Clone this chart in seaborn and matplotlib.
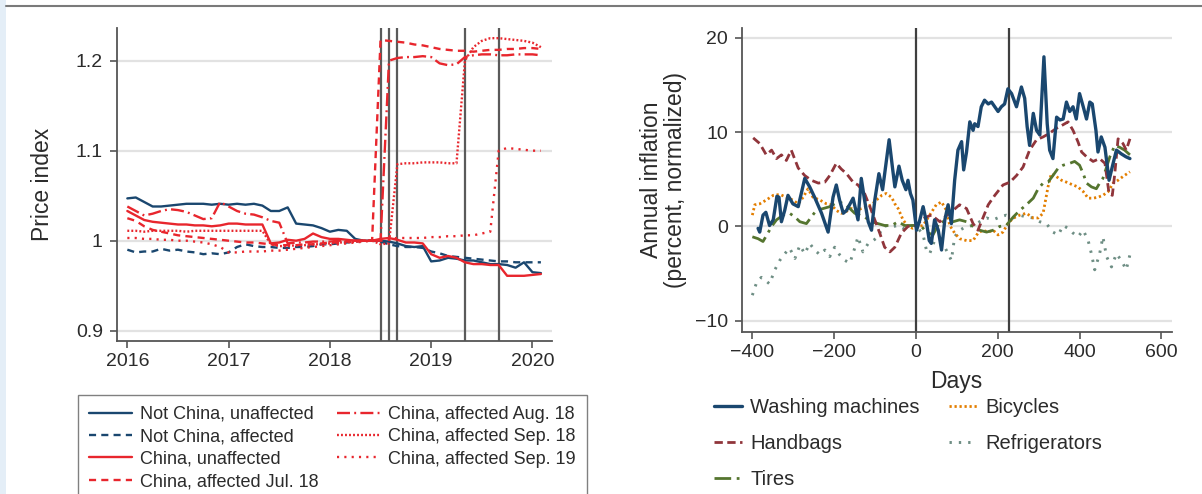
import numpy as np
import pandas as pd
import matplotlib
matplotlib.use("Agg")
import matplotlib.pyplot as plt
from matplotlib.patches import Rectangle
from matplotlib.lines import Line2D
import seaborn as sns

# ---------------- Left panel data (monthly, Jan 2016 - Feb 2020) ----------------
first_month = "2016-01-01"
n_months = 50
not_china_unaffected = [1.047, 1.048, 1.043, 1.038, 1.038, 1.039, 1.040, 1.041, 1.041, 1.041, 1.040, 1.041,
                        1.040, 1.041, 1.040, 1.041, 1.039, 1.033, 1.033, 1.037, 1.019, 1.018, 1.017, 1.014,
                        1.010, 1.012, 1.011, 1.002, 1.000, 1.000, 1.000, 0.999, 0.997, 0.994, 0.993, 0.994,
                        0.977, 0.978, 0.981, 0.980, 0.978, 0.978, 0.976, 0.974, 0.974, 0.973, 0.970, 0.976,
                        0.965, 0.964]
not_china_affected = [0.990, 0.987, 0.988, 0.988, 0.991, 0.989, 0.990, 0.988, 0.987, 0.985, 0.986, 0.985,
                      0.987, 0.993, 0.996, 0.994, 0.993, 0.993, 0.992, 0.992, 0.993, 0.993, 0.994, 0.996,
                      0.996, 0.997, 0.998, 0.999, 1.000, 1.000, 0.999, 0.996, 0.994, 0.993, 0.993, 0.992,
                      0.988, 0.986, 0.983, 0.982, 0.981, 0.980, 0.979, 0.978, 0.977, 0.977, 0.976, 0.976,
                      0.976, 0.976]
china_unaffected = [1.033, 1.028, 1.023, 1.021, 1.020, 1.019, 1.018, 1.018, 1.017, 1.017, 1.016, 1.017,
                    1.019, 1.019, 1.018, 1.018, 1.018, 0.997, 0.998, 1.001, 1.000, 1.002, 1.008, 1.004,
                    1.002, 1.002, 1.001, 1.000, 1.000, 1.000, 1.002, 1.003, 1.001, 0.998, 0.998, 0.997,
                    0.985, 0.981, 0.983, 0.981, 0.976, 0.974, 0.974, 0.973, 0.973, 0.961, 0.961, 0.961,
                    0.962, 0.963]
china_jul18 = [1.025, 1.022, 1.016, 1.012, 1.010, 1.008, 1.006, 1.005, 1.004, 1.003, 1.002, 1.001,
               1.000, 0.999, 0.998, 0.998, 0.997, 0.996, 0.995, 0.995, 0.995, 0.996, 0.996, 0.997,
               0.998, 0.998, 0.999, 0.999, 1.000, 1.000, 1.223, 1.222, 1.221, 1.220, 1.218, 1.217,
               1.215, 1.213, 1.212, 1.211, 1.211, 1.210, 1.211, 1.212, 1.212, 1.213, 1.213, 1.214,
               1.214, 1.213]
china_aug18 = [1.038, 1.033, 1.028, 1.030, 1.033, 1.035, 1.034, 1.032, 1.028, 1.024, 1.025, 1.043,
               1.038, 1.033, 1.030, 1.029, 1.026, 1.022, 1.020, 0.997, 0.998, 0.998, 0.999, 0.999,
               0.999, 1.000, 1.000, 1.000, 1.000, 1.000, 1.000, 1.200, 1.203, 1.204, 1.204, 1.205,
               1.204, 1.197, 1.195, 1.196, 1.204, 1.206, 1.207, 1.207, 1.206, 1.206, 1.207, 1.207,
               1.207, 1.206]
china_sep18 = [1.011, 1.011, 1.010, 1.011, 1.011, 1.011, 1.011, 1.010, 1.011, 1.011, 1.011, 1.011,
               1.011, 1.011, 1.011, 1.011, 1.011, 0.996, 0.994, 0.994, 0.995, 0.995, 0.996, 0.996,
               0.997, 0.998, 0.998, 0.999, 1.000, 1.000, 0.996, 0.997, 1.085, 1.086, 1.086, 1.087,
               1.087, 1.087, 1.086, 1.086, 1.200, 1.215, 1.222, 1.225, 1.225, 1.224, 1.223, 1.222,
               1.220, 1.215]
china_sep19 = [1.003, 1.003, 1.002, 1.002, 1.001, 1.001, 1.000, 1.000, 0.999, 0.998, 0.996, 0.993,
               0.987, 0.987, 0.988, 0.988, 0.988, 0.989, 0.989, 0.990, 0.991, 0.992, 0.993, 0.994,
               0.995, 0.996, 0.997, 0.998, 0.999, 1.000, 1.000, 1.002, 1.003, 1.003, 1.003, 1.003,
               1.004, 1.004, 1.005, 1.005, 1.006, 1.006, 1.008, 1.010, 1.100, 1.103, 1.102, 1.101,
               1.100, 1.100]
left_labels = ["Not China, unaffected", "Not China, affected", "China, unaffected",
               "China, affected Jul. 18", "China, affected Aug. 18", "China, affected Sep. 18",
               "China, affected Sep. 19"]
tariff_dates = ["2018-07-01", "2018-08-01", "2018-09-01", "2019-05-01", "2019-09-01"]
left_yticks = [0.9, 1.0, 1.1, 1.2]
left_yticklabels = ["0.9", "1", "1.1", "1.2"]
left_xticks = [2016, 2017, 2018, 2019, 2020]

# ---------------- Right panel data (days relative to tariff) ----------------
wash_days = [-385, -381, -373, -366, -357, -348, -339, -334, -328, -320,
             -312, -300, -287, -271, -259, -247, -230, -214, -202, -194,
             -186, -177, -169, -153, -141, -133, -125, -116, -108, -100,
             -90, -81, -65, -57, -51, -41, -33, -24, -19, -13,
             -7, 2, 10, 18, 26, 33, 38, 46, 55, 63,
             71, 79, 87, 95, 103, 112, 117, 124, 132, 140,
             144, 152, 160, 168, 177, 185, 193, 201, 209, 217,
             225, 234, 246, 258, 266, 272, 278, 287, 295, 303,
             313, 321, 327, 335, 344, 352, 360, 368, 376, 384,
             392, 400, 409, 417, 425, 431, 440, 445, 453, 462,
             472, 482, 490, 502, 513, 523]
wash_vals = [-0.2, -0.6, 1.2, 1.5, 0.1, 0.7, 3.2, 3.1, 0.5, 1.7,
             3.3, 2.4, 2.1, 5.1, 4.2, 3.1, 1.4, -0.6, 3.1, 4.4,
             2.8, 1.4, 1.7, 3.0, 0.7, 5.1, 2.8, 0.5, -0.4, 2.8,
             5.6, 3.9, 9.2, 6.3, 4.2, 6.4, 4.9, 3.9, 4.9, 3.5,
             2.8, -0.4, 0.7, 2.1, 0.5, -1.5, -1.8, 0.7, -0.4, -2.5,
             0.7, 2.3, 0.3, 4.9, 8.1, 9.0, 6.0, 7.9, 11.1, 10.2,
             10.9, 10.6, 12.7, 13.4, 13.0, 13.2, 12.7, 12.2, 12.7, 13.0,
             14.6, 14.1, 12.7, 14.8, 13.6, 10.6, 8.6, 12.0, 10.2, 9.7,
             18.0, 10.9, 8.1, 7.2, 11.6, 11.3, 11.4, 13.2, 12.2, 12.7,
             11.4, 14.1, 12.7, 11.4, 13.2, 13.0, 10.2, 7.9, 9.5, 8.4,
             4.9, 6.7, 8.1, 7.7, 7.4, 7.2]
handbag_days = [-397, -381, -365, -352, -340, -328, -316, -304, -287, -271,
                -255, -238, -222, -210, -194, -182, -169, -153, -141, -125,
                -112, -100, -88, -76, -63, -51, -35, -19, 2, 14,
                26, 38, 59, 71, 91, 107, 124, 140, 152, 164,
                177, 193, 213, 230, 246, 262, 278, 295, 311, 327,
                343, 356, 372, 384, 396, 405, 417, 433, 449, 462,
                472, 480, 486, 494, 506, 514, 523]
handbag_vals = [9.4, 8.8, 7.6, 8.1, 7.2, 7.6, 7.0, 8.1, 6.2, 5.4,
                4.9, 4.6, 4.7, 5.4, 6.7, 6.1, 5.6, 4.7, 4.4, 3.5,
                2.1, 0.7, -0.7, -2.2, -2.7, -2.2, -0.7, 0.0, 0.1, 0.7,
                1.0, 1.2, 0.5, 1.0, 1.7, 2.3, 1.9, 0.3, -0.4, 0.9,
                2.3, 3.3, 4.4, 4.7, 5.4, 6.3, 8.1, 9.2, 9.5, 9.9,
                10.4, 10.7, 11.1, 10.2, 9.0, 7.9, 7.4, 6.9, 7.2, 6.7,
                3.5, 3.3, 5.6, 9.3, 8.8, 8.1, 9.3]
tires_days = [-399, -385, -373, -361, -352, -340, -324, -308, -295, -283,
              -267, -255, -243, -226, -210, -190, -173, -161, -149, -137,
              -125, -108, -92, -76, -59, -43, -27, -11, 2, 14,
              26, 42, 59, 75, 91, 107, 124, 140, 156, 173,
              189, 205, 221, 238, 254, 270, 287, 299, 311, 323,
              335, 348, 360, 376, 388, 400, 409, 417, 429, 441,
              449, 457, 466, 474, 486, 498, 510, 523]
tires_vals = [-1.1, -1.3, -1.6, -0.7, 0.0, 0.7, 1.2, 1.4, 1.0, 0.5,
              0.3, 1.0, 1.7, 1.9, 2.1, 2.6, 2.4, 1.9, 1.4, 1.2,
              1.0, 0.5, 0.3, 0.1, 0.1, 0.5, 0.1, 0.1, 0.1, 0.0,
              -0.6, -0.9, 0.5, 0.5, 0.5, 0.7, 0.5, 0.0, -0.4, -0.6,
              -0.4, 0.0, 0.1, 1.0, 1.7, 2.3, 3.0, 4.0, 4.6, 4.7,
              5.4, 6.2, 6.5, 6.7, 6.9, 6.5, 5.6, 4.6, 4.2, 4.0,
              4.6, 5.1, 6.3, 7.4, 8.6, 8.4, 8.1, 7.6]
bicycle_days = [-399, -393, -381, -365, -348, -332, -316, -300, -287, -275,
                -263, -251, -234, -218, -206, -194, -182, -169, -157, -145,
                -133, -120, -108, -96, -83, -72, -59, -51, -43, -31,
                -19, -7, 6, 18, 34, 50, 63, 75, 83, 95,
                107, 124, 140, 152, 164, 177, 189, 201, 213, 225,
                238, 254, 270, 287, 299, 311, 323, 331, 343, 356,
                368, 384, 396, 409, 421, 433, 445, 457, 470, 482,
                494, 506, 523]
bicycle_vals = [1.2, 2.3, 2.4, 2.8, 3.3, 3.4, 3.1, 2.8, 2.4, 3.1,
                4.0, 3.1, 2.8, 2.4, 2.3, 1.7, 1.4, 1.6, 1.9, 1.7,
                1.9, 2.1, 2.3, 2.8, 3.3, 3.5, 3.1, 2.4, 1.9, 0.7,
                0.0, -0.2, 0.0, 0.1, 1.2, 2.3, 2.6, 1.7, 0.1, -0.7,
                -1.3, -1.5, -1.5, -0.7, -0.4, -0.6, -0.4, -0.9, -0.6, 0.3,
                0.9, 1.2, 1.4, 0.9, 0.9, 1.4, 4.2, 5.6, 5.3, 4.9,
                4.7, 4.4, 4.2, 3.7, 3.0, 3.0, 3.1, 3.3, 3.7, 4.6,
                4.9, 5.3, 5.8]
fridge_days = [-399, -389, -377, -365, -357, -344, -332, -320, -308, -295,
               -283, -271, -259, -247, -234, -222, -210, -198, -186, -173,
               -161, -149, -141, -129, -116, -104, -92, -80, -68, -55,
               -43, -31, -19, -7, 6, 18, 26, 34, 46, 59,
               71, 79, 87, 95, 107, 124, 140, 156, 173, 189,
               205, 221, 238, 254, 270, 287, 303, 319, 335, 348,
               360, 372, 384, 396, 409, 421, 429, 437, 449, 457,
               466, 478, 490, 502, 514, 523]
fridge_vals = [-7.3, -6.0, -5.4, -5.8, -6.1, -4.6, -3.6, -2.9, -2.3, -3.4,
               -2.0, -2.9, -1.8, -2.5, -3.0, -2.5, -3.2, -2.2, -3.0, -3.6,
               -3.9, -2.3, -1.1, -2.7, -1.8, -1.5, -1.1, 0.0, 0.1, 0.0,
               0.1, -0.2, 0.0, 0.1, -0.2, -0.9, -2.5, -2.9, -1.5, -1.6,
               -2.2, -2.9, -3.6, -1.1, -0.4, 0.0, 0.1, 0.5, 0.9, 0.7,
               1.0, 1.2, 0.9, 1.2, 1.0, 0.9, 0.5, 0.3, -0.6, -0.9,
               0.1, -0.2, -0.7, -1.1, -0.4, -1.5, -2.9, -4.6, -2.9, -1.1,
               -3.2, -4.3, -2.9, -3.6, -4.6, -3.0]
event_days = [0, 228]
right_yticks = [-10, 0, 10, 20]
right_xticks = [-400, -200, 0, 200, 400, 600]

# ---------------- styling ----------------
sns.set_style("ticks")
plt.rcParams["font.family"] = ["Liberation Sans", "DejaVu Sans"]
plt.rcParams["axes.unicode_minus"] = True

NAVY = "#1a476f"
RED = "#e8262d"
MAROON = "#90353b"
GREEN = "#55752f"
ORANGE = "#e37e00"
TEAL = "#6e8e84"
AXC = "#555555"
TXT = "#2b2b2b"

W, H = 1202, 494
fig = plt.figure(figsize=(W / 100, H / 100), dpi=100)
fig.patch.set_facecolor("white")


def px_rect(l, t, r, b):
    return [l / W, 1 - b / H, (r - l) / W, (b - t) / H]


# decorations: left tinted strip and top rule
fig.add_artist(Rectangle((0, 0), 6 / W, 1, transform=fig.transFigure,
                         facecolor="#e4eef7", edgecolor="none", zorder=0))
fig.add_artist(Line2D([6 / W, 1], [1 - 6.5 / H, 1 - 6.5 / H], transform=fig.transFigure,
                      color="#7a7a7a", lw=1.5))

ax1 = fig.add_axes(px_rect(116.7, 28, 551.7, 340.7))
ax2 = fig.add_axes(px_rect(741.7, 28, 1171.7, 331.7))

# ---- left panel ----
dates = pd.date_range(first_month, periods=n_months, freq="MS")
xdec = dates.year + (dates.month - 1) / 12.0
left_values = [not_china_unaffected, not_china_affected, china_unaffected,
               china_jul18, china_aug18, china_sep18, china_sep19]
left_colors = [NAVY, NAVY, RED, RED, RED, RED, RED]
left_styles = ["-", (0, (3, 2.2)), "-", (0, (3, 2.2)), (0, (5.5, 1.8, 0.8, 1.8)),
               (0, (0.8, 0.9)), (0, (0.9, 2.2))]

left_df = pd.concat([pd.DataFrame({"x": xdec, "y": v, "series": lab})
                     for v, lab in zip(left_values, left_labels)], ignore_index=True)

ax1.yaxis.grid(True, color="#e2e2e2", lw=1.6)
ax1.set_axisbelow(True)
for d in tariff_dates:
    t = pd.Timestamp(d)
    ax1.axvline(t.year + (t.month - 1) / 12.0, color="#5a5a5a", lw=1.6, zorder=1.5)

left_handles = []
for lab, col, ls in zip(left_labels, left_colors, left_styles):
    sub = left_df[left_df["series"] == lab]
    sns.lineplot(data=sub, x="x", y="y", ax=ax1, color=col, linewidth=1.7,
                 linestyle=ls, errorbar=None, legend=False, zorder=2)
    left_handles.append(ax1.get_lines()[-1])

ax1.set_xlim(2015.895, 2020.19)
ax1.set_ylim(0.8889, 1.2363)
ax1.set_xticks(left_xticks)
ax1.set_xticklabels([str(v) for v in left_xticks])
ax1.set_yticks(left_yticks)
ax1.set_yticklabels(left_yticklabels)
ax1.set_xlabel("")
ax1.set_ylabel("Price index", fontsize=16.5, color=TXT)
ax1.yaxis.set_label_coords((54 - 116.7) / 435, 0.5)

# ---- right panel ----
right_specs = [
    ("Refrigerators", fridge_days, fridge_vals, TEAL, (0, (0.8, 2.4)), 2.1),
    ("Bicycles", bicycle_days, bicycle_vals, ORANGE, (0, (0.8, 1.0)), 2.0),
    ("Tires", tires_days, tires_vals, GREEN, (0, (6, 2, 1, 2)), 2.0),
    ("Handbags", handbag_days, handbag_vals, MAROON, (0, (3, 1.6)), 2.0),
    ("Washing machines", wash_days, wash_vals, NAVY, "-", 2.4),
]
right_df = pd.concat([pd.DataFrame({"days": d, "infl": v, "product": name})
                      for name, d, v, _, _, _ in right_specs], ignore_index=True)

ax2.yaxis.grid(True, color="#e2e2e2", lw=1.6)
ax2.set_axisbelow(True)
for d in event_days:
    ax2.axvline(d, color="#3f3f3f", lw=1.6, zorder=1.5)

right_handles = {}
for name, _, _, col, ls, lw in right_specs:
    sub = right_df[right_df["product"] == name]
    sns.lineplot(data=sub, x="days", y="infl", ax=ax2, color=col, linewidth=lw,
                 linestyle=ls, errorbar=None, legend=False, zorder=2)
    right_handles[name] = ax2.get_lines()[-1]

ax2.set_xlim(-425, 625)
ax2.set_ylim(-11.17, 21.06)
ax2.set_xticks(right_xticks)
ax2.set_yticks(right_yticks)
ax2.set_xlabel("Days", fontsize=16.5, color=TXT)
ax2.xaxis.set_label_coords(0.5, (331.7 - 370) / 303.7)
ax2.set_ylabel("Annual inflation\n(percent, normalized)", fontsize=16.5, color=TXT,
               linespacing=1.05)
ax2.yaxis.set_label_coords((687 - 741.7) / 430, 0.5)

for ax in (ax1, ax2):
    sns.despine(ax=ax)
    for side in ("left", "bottom"):
        ax.spines[side].set_color(AXC)
        ax.spines[side].set_linewidth(1.3)
    ax.tick_params(axis="both", labelsize=14, length=5, width=1.2, color=AXC,
                   labelcolor=TXT)
    ax.tick_params(axis="x", pad=4)
    ax.tick_params(axis="y", pad=5)

# ---- legends ----
leg1 = fig.legend(left_handles, left_labels, ncol=2, loc="upper left",
                  bbox_to_anchor=(77.7 / W, 1 - 395 / H), bbox_transform=fig.transFigure,
                  fontsize=13, frameon=True, fancybox=False, framealpha=1,
                  edgecolor="#808080", handlelength=2.4, handletextpad=0.45,
                  columnspacing=1.0, labelspacing=0.3, borderpad=0.6,
                  borderaxespad=0)
leg1.get_frame().set_linewidth(1.0)
for t in leg1.get_texts():
    t.set_color(TXT)

order = ["Washing machines", "Handbags", "Tires", "Bicycles", "Refrigerators"]
leg2 = fig.legend([right_handles[n] for n in order], order, ncol=2, loc="upper left",
                  bbox_to_anchor=(714 / W, 1 - 398 / H), bbox_transform=fig.transFigure,
                  fontsize=14.5, frameon=False, handlelength=1.4, handletextpad=0.4,
                  columnspacing=1.45, labelspacing=0.85, borderpad=0, borderaxespad=0)
for t in leg2.get_texts():
    t.set_color(TXT)

fig.savefig("out.png", dpi=100, facecolor="white")
